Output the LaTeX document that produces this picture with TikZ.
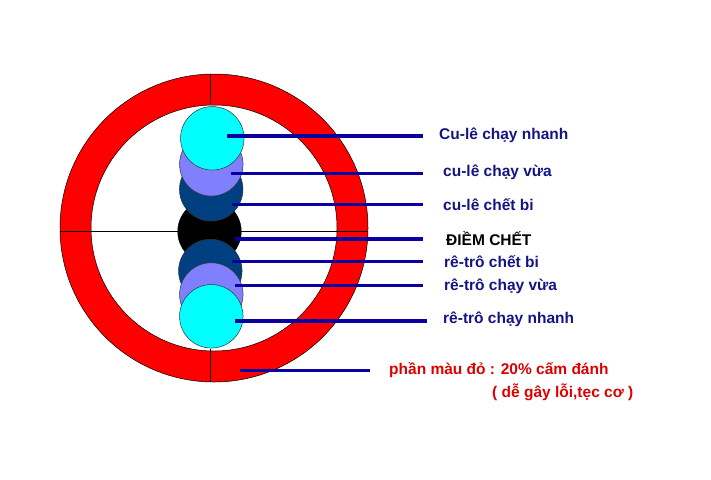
\documentclass[tikz,border=0pt]{standalone}
\usepackage{fontspec}
\setmainfont{Liberation Sans}
\usepackage{xcolor}
\usepackage{tikz}
\usetikzlibrary{positioning}

\definecolor{ringred}{RGB}{255,0,0}
\definecolor{fastcyan}{RGB}{0,255,255}
\definecolor{midviolet}{RGB}{128,128,255}
\definecolor{deadblue}{RGB}{0,64,128}
\definecolor{pointblue}{RGB}{10,0,160}
\definecolor{labelblue}{RGB}{20,20,130}
\definecolor{warnred}{RGB}{220,0,0}

\begin{document}
\begin{tikzpicture}
                [x=1pt, y=-1pt,
                 ball/.style = {draw=black!80, line width=0.5pt, circle, minimum size=63.5pt, inner sep=0pt},
                 pointer/.style = {draw=pointblue, line width=3.5pt},
                 lbl/.style = {anchor=base west, inner sep=0pt, font=\bfseries\fontsize{15.5}{18}\selectfont, text=labelblue}]

                \useasboundingbox (0,0) rectangle (711,479);

                % vong do
                \coordinate (o) at (214,228);
                \fill[ringred, even odd rule] (o) circle[radius=154pt] (o) circle[radius=123pt];
                \draw[line width=0.5pt] (o) circle[radius=154pt] (o) circle[radius=123pt];

                \coordinate (hl) at (60,231.5);
                \coordinate (hr) at (367,231.5);
                \coordinate (vt1) at (210,74);
                \coordinate (vt2) at (210,104);
                \coordinate (vb1) at (210,349);
                \coordinate (vb2) at (210,382);
                \draw[line width=0.6pt] (hl) -- (hr);
                \draw[line width=0.6pt] (vt1) -- (vt2);
                \draw[line width=0.6pt] (vb1) -- (vb2);

                % bi
                \node[ball, fill=black, draw=black] (diem) at (209.5,231.5) {};
                \node[ball, fill=deadblue] (cuchet) at (211.2,189.3) {};
                \node[ball, fill=deadblue] (rechet) at (210.3,271) {};
                \node[ball, fill=midviolet] (cuvua) at (211.3,164.3) {};
                \node[ball, fill=midviolet] (revua) at (211.3,294.5) {};
                \node[ball, fill=fastcyan] (cunhanh) at (212.3,138.3) {};
                \node[ball, fill=fastcyan] (renhanh) at (211.3,316.3) {};

                \coordinate (s1) at (227,136);   \coordinate (t1) at (423,136);
                \coordinate (s2) at (230.7,173.3); \coordinate (t2) at (423,173.3);
                \coordinate (s3) at (232,204.3); \coordinate (t3) at (423,204.3);
                \coordinate (s4) at (235,239);   \coordinate (t4) at (423,239);
                \coordinate (s5) at (232,261.3); \coordinate (t5) at (423,261.3);
                \coordinate (s6) at (235,285.7); \coordinate (t6) at (423,285.7);
                \coordinate (s7) at (235,321);   \coordinate (t7) at (427,321);
                \coordinate (s8) at (240,370.3); \coordinate (t8) at (370,370.3);

                \path[pointer] (s1) edge (t1);
                \path[pointer] (s2) edge (t2);
                \path[pointer] (s3) edge (t3);
                \path[pointer] (s4) edge (t4);
                \path[pointer] (s5) edge (t5);
                \path[pointer] (s6) edge (t6);
                \path[pointer] (s7) edge (t7);
                \path[pointer] (s8) edge (t8);

                \node[lbl] (cunhanhtxt) at (439,139) {Cu-lê chạy nhanh};
                \node[lbl] (cuvuatxt) at (443,176) {cu-lê chạy vừa};
                \node[lbl] (cuchettxt) at (443,210) {cu-lê chết bi};
                \node[lbl, text=black] (diemtxt) at (446,245.5) {ĐIỀM CHẾT};
                \node[lbl] (rechettxt) at (444,267.5) {rê-trô chết bi};
                \node[lbl] (revuatxt) at (444,290) {rê-trô chạy vừa};
                \node[lbl] (renhanhtxt) at (443,323) {rê-trô chạy nhanh};
                \node[lbl, text=warnred] (canhbao) at (389,374) {phần màu đỏ : 20\% cấm đánh};
                \node[lbl, text=warnred] (lydo) at (492,397) {( dễ gây lỗi,tẹc cơ )};

            \end{tikzpicture}
\end{document}
